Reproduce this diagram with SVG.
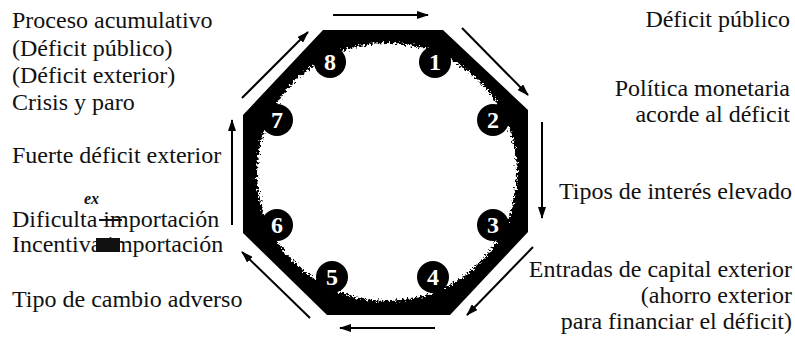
<svg xmlns="http://www.w3.org/2000/svg" width="795" height="341" viewBox="0 0 795 341">
  <style>
    .dot { fill: #000; }
    .arr { stroke: #000; stroke-width: 2; fill: none; marker-end: url(#ah); }
  </style>
  <defs>
    <marker id="ah" viewBox="0 0 12 8" refX="11" refY="4" markerWidth="12" markerHeight="8" markerUnits="userSpaceOnUse" orient="auto">
      <path d="M0,0 L12,4 L0,8 Z" fill="#000"/>
    </marker>
    <filter id="rough" x="-10%" y="-10%" width="120%" height="120%">
      <feTurbulence type="fractalNoise" baseFrequency="0.45" numOctaves="3" seed="4" result="n"/>
      <feDisplacementMap in="SourceGraphic" in2="n" scale="9" xChannelSelector="R" yChannelSelector="G"/>
    </filter>
  </defs>
  <rect width="795" height="341" fill="#fff"/>

  <g id="ring">
    <polygon points="323,30 443,30 528,110 528,232 450,315 327,315 243,233 243,115" fill="#000"/>
    <ellipse cx="387" cy="172" rx="130" ry="129" fill="#fff" filter="url(#rough)"/>
  </g>

  <g id="connectors">
    <line class="arr" x1="333" y1="15" x2="428" y2="15"/>
    <line class="arr" x1="462" y1="28" x2="528" y2="95"/>
    <line class="arr" x1="542" y1="122" x2="542" y2="218"/>
    <line class="arr" x1="533" y1="247" x2="467" y2="315"/>
    <line class="arr" x1="435" y1="328" x2="340" y2="328"/>
    <line class="arr" x1="310" y1="318" x2="242" y2="252"/>
    <line class="arr" x1="232" y1="225" x2="232" y2="120"/>
    <line class="arr" x1="242" y1="98" x2="308" y2="32"/>
  </g>

  <g id="n1"><circle class="dot" cx="435" cy="62" r="16"/><text style="font-family:'Liberation Serif','Times New Roman',serif;font-size:24px;font-weight:bold;fill:#fff;text-anchor:middle" x="435" y="70">1</text></g>
  <g id="n2"><circle class="dot" cx="493" cy="120" r="16"/><text style="font-family:'Liberation Serif','Times New Roman',serif;font-size:24px;font-weight:bold;fill:#fff;text-anchor:middle" x="493" y="128">2</text></g>
  <g id="n3"><circle class="dot" cx="493" cy="225" r="16"/><text style="font-family:'Liberation Serif','Times New Roman',serif;font-size:24px;font-weight:bold;fill:#fff;text-anchor:middle" x="493" y="233">3</text></g>
  <g id="n4"><circle class="dot" cx="433" cy="277" r="16"/><text style="font-family:'Liberation Serif','Times New Roman',serif;font-size:24px;font-weight:bold;fill:#fff;text-anchor:middle" x="433" y="285">4</text></g>
  <g id="n5"><circle class="dot" cx="332" cy="277" r="16"/><text style="font-family:'Liberation Serif','Times New Roman',serif;font-size:24px;font-weight:bold;fill:#fff;text-anchor:middle" x="332" y="285">5</text></g>
  <g id="n6"><circle class="dot" cx="277" cy="225" r="16"/><text style="font-family:'Liberation Serif','Times New Roman',serif;font-size:24px;font-weight:bold;fill:#fff;text-anchor:middle" x="277" y="233">6</text></g>
  <g id="n7"><circle class="dot" cx="277" cy="120" r="16"/><text style="font-family:'Liberation Serif','Times New Roman',serif;font-size:24px;font-weight:bold;fill:#fff;text-anchor:middle" x="277" y="128">7</text></g>
  <g id="n8"><circle class="dot" cx="330" cy="62" r="16"/><text style="font-family:'Liberation Serif','Times New Roman',serif;font-size:24px;font-weight:bold;fill:#fff;text-anchor:middle" x="330" y="70">8</text></g>

  <g id="label-8">
    <text style="font-family:'Liberation Serif','Times New Roman',serif;font-size:24px;fill:#111" x="12" y="28">Proceso acumulativo</text>
    <text style="font-family:'Liberation Serif','Times New Roman',serif;font-size:24px;fill:#111" x="12" y="56">(Déficit público)</text>
    <text style="font-family:'Liberation Serif','Times New Roman',serif;font-size:24px;fill:#111" x="12" y="83">(Déficit exterior)</text>
    <text style="font-family:'Liberation Serif','Times New Roman',serif;font-size:24px;fill:#111" x="12" y="110">Crisis y paro</text>
  </g>
  <g id="label-7">
    <text style="font-family:'Liberation Serif','Times New Roman',serif;font-size:24px;fill:#111" x="12" y="163">Fuerte déficit exterior</text>
  </g>
  <g id="label-6">
    <text style="font-family:'Liberation Serif','Times New Roman',serif;font-size:16px;font-style:italic;font-weight:bold;fill:#111" x="84" y="204">ex</text>
    <text style="font-family:'Liberation Serif','Times New Roman',serif;font-size:24px;fill:#111" x="12" y="227">Dificulta importación</text>
    <line x1="99" y1="220" x2="122" y2="220" stroke="#111" stroke-width="2"/>
    <text style="font-family:'Liberation Serif','Times New Roman',serif;font-size:24px;fill:#111" x="12" y="252">Incentiva importación</text>
    <rect x="96" y="238" width="24" height="14" fill="#111"/>
  </g>
  <g id="label-5">
    <text style="font-family:'Liberation Serif','Times New Roman',serif;font-size:24px;fill:#111" x="12" y="307">Tipo de cambio adverso</text>
  </g>
  <g id="label-1">
    <text style="font-family:'Liberation Serif','Times New Roman',serif;font-size:24px;fill:#111;text-anchor:end" x="790" y="27">Déficit público</text>
  </g>
  <g id="label-2">
    <text style="font-family:'Liberation Serif','Times New Roman',serif;font-size:24px;fill:#111;text-anchor:end" x="790" y="96">Política monetaria</text>
    <text style="font-family:'Liberation Serif','Times New Roman',serif;font-size:24px;fill:#111;text-anchor:end" x="790" y="122">acorde al déficit</text>
  </g>
  <g id="label-3">
    <text style="font-family:'Liberation Serif','Times New Roman',serif;font-size:24px;fill:#111;text-anchor:end" x="792" y="199">Tipos de interés elevado</text>
  </g>
  <g id="label-4">
    <text style="font-family:'Liberation Serif','Times New Roman',serif;font-size:24px;fill:#111;text-anchor:end" x="792" y="277">Entradas de capital exterior</text>
    <text style="font-family:'Liberation Serif','Times New Roman',serif;font-size:24px;fill:#111;text-anchor:end" x="792" y="303">(ahorro exterior</text>
    <text style="font-family:'Liberation Serif','Times New Roman',serif;font-size:24px;fill:#111;text-anchor:end" x="792" y="329">para financiar el déficit)</text>
  </g>
</svg>
